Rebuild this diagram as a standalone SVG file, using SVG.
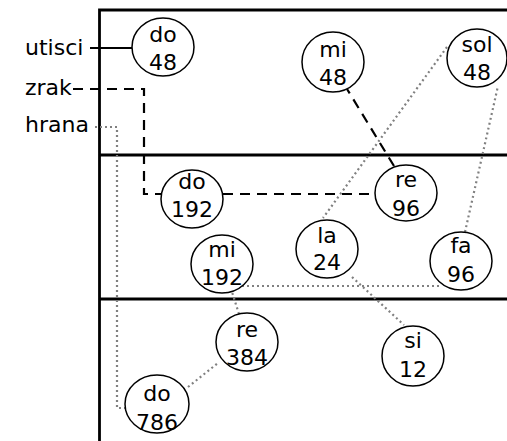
<svg xmlns="http://www.w3.org/2000/svg" width="507" height="441" viewBox="0 0 507 441">
<style>
.frame{stroke:#000;stroke-width:2.8;fill:none}
.node ellipse{fill:#fff;stroke:#000;stroke-width:1.5}
text{font-family:"DejaVu Sans","Liberation Sans",sans-serif;font-size:22px;fill:#000}
.node text{text-anchor:middle}
.solid{stroke:#000;stroke-width:2.2;fill:none}
.dash{stroke:#000;stroke-width:2.2;fill:none;stroke-dasharray:10 7}
.dot{stroke:#808080;stroke-width:2.2;fill:none;stroke-dasharray:2 3}
</style>
<rect width="507" height="441" fill="#fff"/>
<g id="frame">
<path class="frame" d="M99.5 441V10H507M99.5 155H507M99.5 299H507"/>
</g>
<g id="labels">
<text x="25" y="55">utisci</text>
<text x="25" y="95">zrak</text>
<text x="25" y="132">hrana</text>
</g>
<g id="connectors">
<path class="solid" d="M90 48H132"/>
<path class="dash" d="M73 89H144V194H161"/>
<path class="dash" d="M223 194H375"/>
<path class="dash" d="M394 166L347 89"/>
<path class="dot" d="M95 127H117V408H125"/>
<path class="dot" d="M188 387L218 363"/>
<path class="dot" d="M239 314L232 292"/>
<path class="dot" d="M242 286H442"/>
<path class="dot" d="M465 232L498 86"/>
<path class="dot" d="M447 47L323 218"/>
<path class="dot" d="M352 277L404 325"/>
</g>
<g id="n-do48" class="node"><ellipse cx="163" cy="47" rx="31" ry="29"/><text x="163" y="42">do</text><text x="163" y="70">48</text></g>
<g id="n-mi48" class="node"><ellipse cx="333" cy="62" rx="31" ry="30"/><text x="333" y="57">mi</text><text x="333" y="85">48</text></g>
<g id="n-sol48" class="node"><ellipse cx="477" cy="58" rx="30" ry="29"/><text x="477" y="52">sol</text><text x="477" y="80">48</text></g>
<g id="n-do192" class="node"><ellipse cx="192" cy="199" rx="31" ry="29"/><text x="192" y="189">do</text><text x="192" y="217">192</text></g>
<g id="n-re96" class="node"><ellipse cx="406" cy="193" rx="31" ry="28"/><text x="406" y="187">re</text><text x="406" y="216">96</text></g>
<g id="n-mi192" class="node"><ellipse cx="222" cy="264" rx="31" ry="29"/><text x="222" y="257">mi</text><text x="222" y="285">192</text></g>
<g id="n-la24" class="node"><ellipse cx="327" cy="249" rx="31" ry="29"/><text x="327" y="243">la</text><text x="327" y="270">24</text></g>
<g id="n-fa96" class="node"><ellipse cx="461" cy="261" rx="31" ry="29"/><text x="461" y="253">fa</text><text x="461" y="282">96</text></g>
<g id="n-re384" class="node"><ellipse cx="247" cy="342" rx="31" ry="29"/><text x="247" y="337">re</text><text x="247" y="365">384</text></g>
<g id="n-si12" class="node"><ellipse cx="413" cy="356" rx="31" ry="30"/><text x="413" y="348">si</text><text x="413" y="377">12</text></g>
<g id="n-do786" class="node"><ellipse cx="157" cy="404" rx="32" ry="29"/><text x="157" y="401">do</text><text x="157" y="430">786</text></g>
</svg>
